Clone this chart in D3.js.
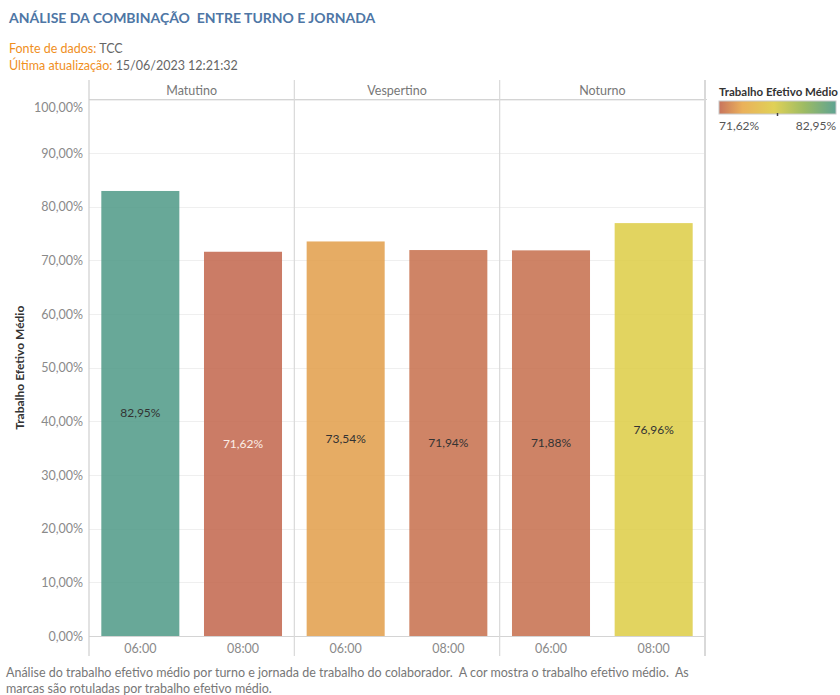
<!DOCTYPE html>
<html>
<head>
<meta charset="utf-8">
<script src="https://cdn.jsdelivr.net/npm/d3@7"></script>
<style>
  html, body { margin: 0; padding: 0; background: #fff; }
  svg { display: block; font-family: Lato, "Open Sans", sans-serif; }
  svg text { white-space: pre; }
</style>
</head>
<body>
<svg id="chart" width="840" height="695"></svg>
<script>
// ---- data ----
const turnos = ["Matutino", "Vespertino", "Noturno"];
const jornadas = ["06:00", "08:00"];
const barTurno = ["Matutino", "Matutino", "Vespertino", "Vespertino", "Noturno", "Noturno"];
const barJornada = ["06:00", "08:00", "06:00", "08:00", "06:00", "08:00"];
const barValor = [82.95, 71.62, 73.54, 71.94, 71.88, 76.96];
const yTicks = [0, 10, 20, 30, 40, 50, 60, 70, 80, 90, 100];
const titulo = "ANÁLISE DA COMBINAÇÃO  ENTRE TURNO E JORNADA";
const rodape = [
  "Análise do trabalho efetivo médio por turno e jornada de trabalho do colaborador.  A cor mostra o trabalho efetivo médio.  As",
  "marcas são rotuladas por trabalho efetivo médio."
];
const paletteStops = [0, 0.2, 0.47, 0.73, 1];
const paletteColors = ["#c2654b", "#e8a849", "#ddcc44", "#92b453", "#4d9986"];

const data = barValor.map((v, i) => ({ turno: barTurno[i], jornada: barJornada[i], valor: v }));

const ptBR = d3.formatLocale({ decimal: ",", thousands: ".", grouping: [3], currency: ["R$", ""] });
const fmt = v => ptBR.format(".2f")(v) + "%";

const svg = d3.select("#chart");

// ---- layout ----
const plotLeft = 89, plotRight = 705, plotTop = 99.5, plotBottom = 636, headerTop = 80;

const minV = d3.min(barValor), maxV = d3.max(barValor);
const tScale = d3.scaleLinear().domain([minV, maxV]).range([0, 1]);
const colorInterp = d3.scaleLinear().domain(paletteStops).range(paletteColors).interpolate(d3.interpolateRgb);
const color = v => colorInterp(tScale(v));

const x0 = d3.scaleBand().domain(turnos).range([plotLeft, plotRight]).padding(0);
const x1 = d3.scaleBand().domain(jornadas).range([0, x0.bandwidth()]).paddingInner(0.24).paddingOuter(0.12);
const y = d3.scaleLinear().domain([0, 100]).range([plotBottom, plotTop]);

// ---- title & subtitle ----
svg.append("text").attr("x", 9).attr("y", 23)
  .attr("font-size", 14).attr("font-weight", 700).attr("fill", "#4e76a5")
  .text(titulo);

const sub1 = svg.append("text").attr("x", 9).attr("y", 53).attr("font-size", 12.5);
sub1.append("tspan").attr("fill", "#f08f1e").text("Fonte de dados: ");
sub1.append("tspan").attr("fill", "#666").text("TCC");
const sub2 = svg.append("text").attr("x", 9).attr("y", 70).attr("font-size", 12.5);
sub2.append("tspan").attr("fill", "#f08f1e").text("Última atualização: ");
sub2.append("tspan").attr("fill", "#666").text("15/06/2023 12:21:32");

// ---- gridlines ----
svg.append("g")
  .selectAll("line").data(yTicks.filter(d => d > 0)).join("line")
  .attr("x1", plotLeft).attr("x2", plotRight)
  .attr("y1", d => Math.round(y(d)) + 0.5).attr("y2", d => Math.round(y(d)) + 0.5)
  .attr("stroke", "#efefef").attr("stroke-width", 1);

// ---- y axis ----
const yAxis = d3.axisLeft(y).tickValues(yTicks).tickSize(0).tickPadding(6).tickFormat(fmt);
const gy = svg.append("g").attr("transform", `translate(${plotLeft},0)`).call(yAxis);
gy.select(".domain").remove();
gy.selectAll("text").attr("font-size", 12.5).attr("fill", "#8a8a8a").attr("font-family", "Lato, sans-serif")
  .attr("transform", d => d === 100 ? "translate(0,8)" : null);

svg.append("text")
  .attr("transform", `translate(24,${(plotTop + plotBottom) / 2}) rotate(-90)`)
  .attr("text-anchor", "middle").attr("font-size", 12).attr("font-weight", 700).attr("fill", "#333")
  .text("Trabalho Efetivo Médio");

// ---- bars ----
const panels = svg.append("g").selectAll("g").data(turnos).join("g")
  .attr("transform", d => `translate(${x0(d)},0)`);

panels.selectAll("rect")
  .data(t => data.filter(d => d.turno === t)).join("rect")
  .attr("x", d => x1(d.jornada))
  .attr("width", x1.bandwidth())
  .attr("y", d => y(d.valor))
  .attr("height", d => y(0) - y(d.valor))
  .attr("fill", d => color(d.valor))
  .attr("fill-opacity", 0.85);

panels.selectAll("text.lbl")
  .data(t => data.filter(d => d.turno === t)).join("text")
  .attr("class", "lbl")
  .attr("x", d => x1(d.jornada) + x1.bandwidth() / 2)
  .attr("y", d => (y(d.valor) + y(0)) / 2 + 4)
  .attr("text-anchor", "middle").attr("font-size", 12)
  .attr("fill", d => d.valor === minV ? "#fbeee8" : "#333")
  .text(d => fmt(d.valor));

// ---- x axis labels ----
panels.each(function (t) {
  const g = d3.select(this);
  const ax = d3.axisBottom(x1).tickSize(0).tickPadding(8);
  const gx = g.append("g").attr("transform", `translate(0,${plotBottom})`).call(ax);
  gx.select(".domain").remove();
  gx.selectAll("text").attr("font-size", 12.5).attr("fill", "#8a8a8a").attr("font-family", "Lato, sans-serif");
});

// ---- headers ----
svg.append("g").selectAll("text").data(turnos).join("text")
  .attr("x", d => x0(d) + x0.bandwidth() / 2).attr("y", 95)
  .attr("text-anchor", "middle").attr("font-size", 12.5).attr("fill", "#777")
  .text(d => d);

// ---- frame lines ----
const frame = svg.append("g").attr("stroke", "#d4d4d4").attr("stroke-width", 1.2);
frame.append("line").attr("x1", plotLeft).attr("x2", 840 - 133).attr("y1", plotTop).attr("y2", plotTop);
frame.append("line").attr("x1", plotLeft).attr("x2", plotRight).attr("y1", plotBottom + 0.5).attr("y2", plotBottom + 0.5);
frame.selectAll("line.v").data(turnos.map(t => x0(t)).concat([plotRight])).join("line")
  .attr("class", "v")
  .attr("x1", d => d).attr("x2", d => d).attr("y1", headerTop).attr("y2", 656)
  .attr("stroke", (d, i) => i === 0 ? "#cfcfcf" : "#d9d9d9")
  .attr("stroke-width", (d, i) => i === 3 ? 2 : 1.2);

// ---- legend ----
const lg = svg.append("g").attr("transform", "translate(719,0)");
lg.append("text").attr("x", 0).attr("y", 96).attr("font-size", 11.5).attr("font-weight", 700).attr("fill", "#333")
  .text("Trabalho Efetivo Médio");
const defs = svg.append("defs");
const grad = defs.append("linearGradient").attr("id", "lgGrad").attr("x1", "0%").attr("x2", "100%");
grad.selectAll("stop").data(paletteStops).join("stop")
  .attr("offset", d => (d * 100) + "%")
  .attr("stop-color", (d, i) => paletteColors[i]);
lg.append("rect").attr("x", 0).attr("y", 101).attr("width", 117).attr("height", 13)
  .attr("fill", "url(#lgGrad)").attr("fill-opacity", 0.9).attr("stroke", "#c8c8c8");
lg.append("line").attr("x1", 58.5).attr("x2", 58.5).attr("y1", 113).attr("y2", 116).attr("stroke", "#444").attr("stroke-width", 1.5);
lg.append("text").attr("x", 0).attr("y", 130).attr("font-size", 12).attr("fill", "#555").text(fmt(minV));
lg.append("text").attr("x", 117).attr("y", 130).attr("text-anchor", "end").attr("font-size", 12).attr("fill", "#555").text(fmt(maxV));

// ---- footer ----
svg.append("g").selectAll("text").data(rodape).join("text")
  .attr("x", 6).attr("y", (d, i) => 677 + i * 16)
  .attr("font-size", 12.5).attr("fill", "#777")
  .text(d => d);
</script>
</body>
</html>
